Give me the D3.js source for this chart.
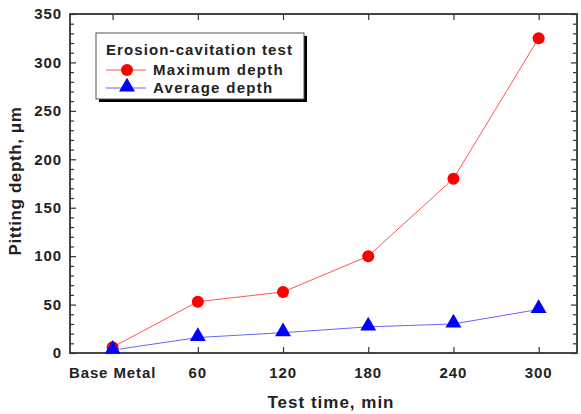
<!DOCTYPE html>
<html>
<head>
<meta charset="utf-8">
<script src="https://cdn.jsdelivr.net/npm/d3@7"></script>
<style>
  body { margin: 0; background: #fff; }
  text { font-family: "Liberation Sans", Arial, sans-serif; font-weight: bold; fill: #222; }
</style>
</head>
<body>
<div id="chart"></div>
<script>
// data
const categories = ['Base Metal', '60', '120', '180', '240', '300'];
const maxDepth = [6, 53, 63, 100, 180, 325];
const avgDepth = [3, 16, 21, 27, 30, 45];
const yTicks = [0, 50, 100, 150, 200, 250, 300, 350];

const width = 581, height = 414;
const plotL = 70, plotR = 577, plotT = 14, plotB = 353;

const svg = d3.select('#chart').append('svg')
  .attr('width', width)
  .attr('height', height);

const x = d3.scaleLinear().domain([-0.5, 5.45]).range([plotL, plotR]);
const y = d3.scaleLinear().domain([0, 350]).range([plotB, plotT]);

const axisColor = '#333';
const minor = d3.range(0, 351, 10).filter(v => v % 50 !== 0);

// left axis, ticks pointing inward
const gl = svg.append('g').attr('transform', `translate(${plotL},0)`);
gl.call(d3.axisRight(y).tickValues(yTicks).tickSize(6).tickFormat(''));
gl.append('g').call(d3.axisRight(y).tickValues(minor).tickSize(4).tickFormat(''));
gl.selectAll('.domain').remove();
gl.selectAll('line').attr('stroke', axisColor).attr('stroke-width', 1.2);

// right axis, ticks pointing inward
const gr = svg.append('g').attr('transform', `translate(${plotR},0)`);
gr.call(d3.axisLeft(y).tickValues(yTicks).tickSize(6).tickFormat(''));
gr.append('g').call(d3.axisLeft(y).tickValues(minor).tickSize(4).tickFormat(''));
gr.selectAll('.domain').remove();
gr.selectAll('line').attr('stroke', axisColor).attr('stroke-width', 1.2);

// y tick labels
svg.append('g').selectAll('text')
  .data(yTicks)
  .join('text')
  .attr('x', plotL - 8)
  .attr('y', d => y(d))
  .attr('dy', '0.35em')
  .attr('text-anchor', 'end')
  .style('font-size', '15px')
  .style('letter-spacing', '0.9px')
  .text(d => d);

// bottom and top axes, ticks inward
const idx = d3.range(categories.length);
const gb = svg.append('g').attr('transform', `translate(0,${plotB})`);
gb.call(d3.axisTop(x).tickValues(idx).tickSize(6).tickFormat(''));
gb.selectAll('.domain').remove();
gb.selectAll('line').attr('stroke', axisColor).attr('stroke-width', 1.2);

const gt = svg.append('g').attr('transform', `translate(0,${plotT})`);
gt.call(d3.axisBottom(x).tickValues(idx).tickSize(6).tickFormat(''));
gt.selectAll('.domain').remove();
gt.selectAll('line').attr('stroke', axisColor).attr('stroke-width', 1.2);

// frame
svg.append('rect')
  .attr('x', plotL).attr('y', plotT)
  .attr('width', plotR - plotL).attr('height', plotB - plotT)
  .attr('fill', 'none').attr('stroke', axisColor).attr('stroke-width', 1.8);

// x tick labels
svg.append('g').selectAll('text')
  .data(categories)
  .join('text')
  .attr('x', (d, i) => x(i))
  .attr('y', plotB + 25)
  .attr('text-anchor', 'middle')
  .style('font-size', '15px')
  .style('letter-spacing', '0.9px')
  .text(d => d);

// axis titles
svg.append('text')
  .attr('x', 331)
  .attr('y', 408)
  .attr('text-anchor', 'middle')
  .style('font-size', '17px')
  .style('letter-spacing', '1px')
  .text('Test time, min');

svg.append('text')
  .attr('transform', `translate(21,181) rotate(-90)`)
  .attr('text-anchor', 'middle')
  .style('font-size', '17px')
  .style('letter-spacing', '0.6px')
  .text('Pitting depth, \u03bcm');

// series
const line = d3.line().x((d, i) => x(i)).y(d => y(d));

svg.append('path').datum(maxDepth)
  .attr('d', line).attr('fill', 'none')
  .attr('stroke', '#f55').attr('stroke-width', 1);
svg.append('path').datum(avgDepth)
  .attr('d', line).attr('fill', 'none')
  .attr('stroke', '#66f').attr('stroke-width', 1);

const tri = d3.symbol().type(d3.symbolTriangle).size(110);

svg.append('g').selectAll('circle')
  .data(maxDepth)
  .join('circle')
  .attr('cx', (d, i) => x(i))
  .attr('cy', d => y(d))
  .attr('r', 6)
  .attr('fill', '#f00');

svg.append('g').selectAll('path')
  .data(avgDepth)
  .join('path')
  .attr('d', tri)
  .attr('transform', (d, i) => `translate(${x(i)},${y(d) - 1})`)
  .attr('fill', '#00f');

// legend
const lg = svg.append('g');
lg.append('rect')
  .attr('x', 99).attr('y', 36).attr('width', 208).attr('height', 66)
  .attr('fill', '#000');
lg.append('rect')
  .attr('x', 96).attr('y', 33).attr('width', 208).attr('height', 66)
  .attr('fill', '#fff').attr('stroke', '#555').attr('stroke-width', 1);
lg.append('text')
  .attr('x', 106).attr('y', 55)
  .style('font-size', '15px')
  .style('letter-spacing', '1.1px')
  .text('Erosion-cavitation test');

const entries = [
  { name: 'Maximum depth', color: '#f55', fill: '#f00', shape: 'circle' },
  { name: 'Average depth', color: '#66f', fill: '#00f', shape: 'triangle' }
];
entries.forEach((e, i) => {
  const yy = 70 + i * 18;
  lg.append('line')
    .attr('x1', 106).attr('x2', 146).attr('y1', yy).attr('y2', yy)
    .attr('stroke', e.color).attr('stroke-width', 1);
  if (e.shape === 'circle') {
    lg.append('circle').attr('cx', 127).attr('cy', yy).attr('r', 6).attr('fill', e.fill);
  } else {
    lg.append('path').attr('d', tri).attr('transform', `translate(127,${yy - 1})`).attr('fill', e.fill);
  }
  lg.append('text')
    .attr('x', 153).attr('y', yy + 5)
    .style('font-size', '15px')
    .style('letter-spacing', '1.3px')
    .text(e.name);
});
</script>
</body>
</html>
